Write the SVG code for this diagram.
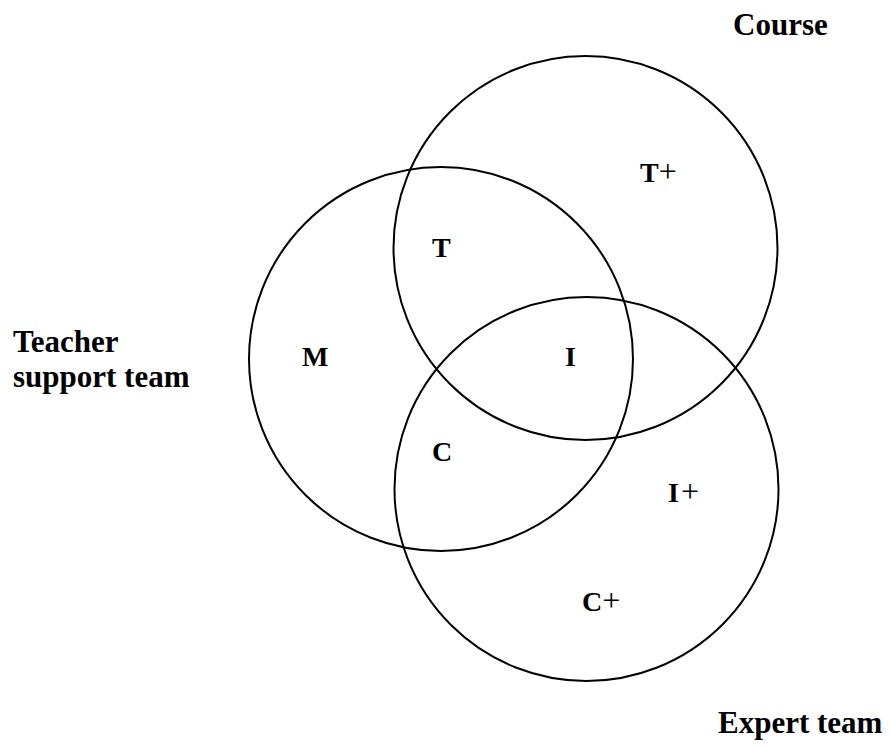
<svg xmlns="http://www.w3.org/2000/svg" width="892" height="746" viewBox="0 0 892 746">
<style>
.c{fill:none;stroke:#000;stroke-width:2}
.t{font-family:"Liberation Serif","Times New Roman",serif;font-weight:bold;font-size:31px;fill:#000}
.l{font-family:"Liberation Serif","Times New Roman",serif;font-weight:bold;font-size:28px;fill:#000}
.p{font-weight:normal;font-size:32px}
</style>
<rect width="892" height="746" fill="#fff"/>
<g id="connectors"></g>
<g id="course"><circle class="c" cx="585.5" cy="248" r="192"/><text class="t" x="733" y="35">Course</text></g>
<g id="teacher"><circle class="c" cx="441" cy="359" r="192"/><text class="t" x="13" y="352">Teacher</text><text class="t" x="13" y="387">support team</text></g>
<g id="expert"><circle class="c" cx="586.5" cy="489" r="192"/><text class="t" x="718" y="733">Expert team</text></g>
<g id="labels">
<text class="l" x="640" y="182">T<tspan class="p">+</tspan></text>
<text class="l" x="432" y="257">T</text>
<text class="l" x="302" y="366">M</text>
<text class="l" x="565" y="366">I</text>
<text class="l" x="432" y="461">C</text>
<text class="l" x="668" y="502">I<tspan class="p" dx="2">+</tspan></text>
<text class="l" x="582" y="611">C<tspan class="p">+</tspan></text>
</g>
</svg>
